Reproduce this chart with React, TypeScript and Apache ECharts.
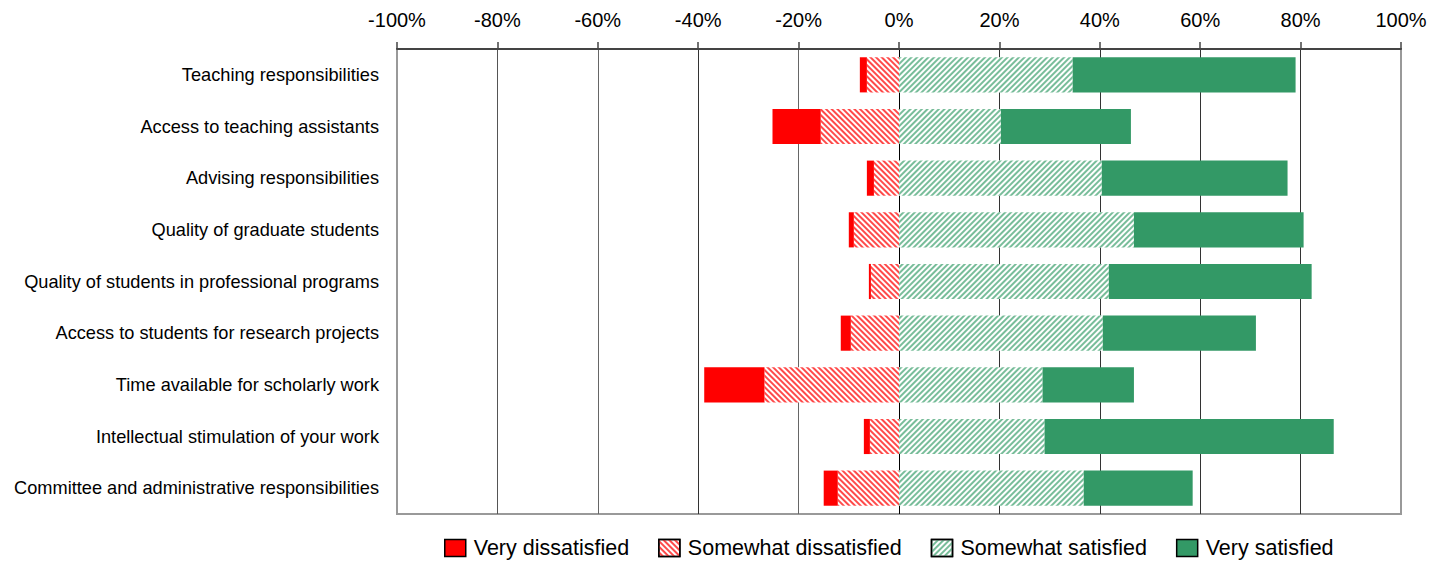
import React, { useEffect, useRef } from "react";
import * as echarts from "echarts";

const categories = [
  "Teaching responsibilities",
  "Access to teaching assistants",
  "Advising responsibilities",
  "Quality of graduate students",
  "Quality of students in professional programs",
  "Access to students for research projects",
  "Time available for scholarly work",
  "Intellectual stimulation of your work",
  "Committee and administrative responsibilities",
];
const veryDissatisfied = [1.4, 9.6, 1.4, 1.0, 0.4, 2.0, 12.0, 1.2, 2.8];
const somewhatDissatisfied = [6.4, 15.6, 5.0, 9.0, 5.6, 9.6, 26.8, 5.8, 12.2];
const somewhatSatisfied = [34.6, 20.3, 40.4, 46.8, 41.8, 40.6, 28.6, 29.0, 36.8];
const verySatisfied = [44.4, 25.9, 37.0, 33.8, 40.4, 30.5, 18.2, 57.6, 21.7];
const legendNames = ["Very dissatisfied", "Somewhat dissatisfied", "Somewhat satisfied", "Very satisfied"];

const FONT = 'Arial, "Liberation Sans", sans-serif';

export default function App() {
  const ref = useRef<HTMLDivElement>(null);
  useEffect(() => {
    document.body.style.margin = "0";
    const chart = echarts.init(ref.current!, null, { renderer: "svg" });
    const hatch = (color: string, rotation: number) => ({
      symbol: "rect",
      symbolSize: 1,
      dashArrayX: [1, 0],
      dashArrayY: [1.3, 2],
      rotation,
      color,
      backgroundColor: "#ffffff",
    });
    chart.setOption({
      animation: false,
      textStyle: { fontFamily: FONT },
      grid: {
        left: 397,
        right: 31,
        top: 49,
        bottom: 47,
        show: true,
        borderColor: "#999",
        borderWidth: 2,
        backgroundColor: "transparent",
      },
      legend: {
        data: legendNames,
        icon: "rect",
        left: 439,
        top: 532,
        itemWidth: 21,
        itemHeight: 17,
        itemGap: 29,
        textStyle: { fontSize: 21.5, color: "#000", fontFamily: FONT, padding: [0, 0, 0, 3] },
        itemStyle: { borderColor: "#000", borderWidth: 1.5 },
      },
      xAxis: {
        type: "value",
        position: "top",
        min: -100,
        max: 100,
        interval: 20,
        axisLine: { show: true, lineStyle: { color: "#444", width: 2 } },
        axisTick: { show: true, length: 7, lineStyle: { color: "#444", width: 1.5 } },
        axisLabel: {
          formatter: (v: number) => `${v}%`,
          fontSize: 20,
          color: "#000",
          margin: 19,
          fontFamily: FONT,
        },
        splitLine: {
          show: true,
          lineStyle: {
            color: ["#999", "#555", "#666", "#333", "#666", "#000", "#333", "#333", "#333", "#333", "#999"],
            width: 1,
          },
        },
      },
      yAxis: {
        type: "category",
        data: categories,
        inverse: true,
        axisLine: { show: false },
        axisTick: { show: false },
        axisLabel: { fontSize: 18.2, color: "#000", margin: 18, fontFamily: FONT },
      },
      series: [
        {
          name: "Somewhat dissatisfied",
          type: "bar",
          stack: "total",
          barWidth: "68%",
          data: somewhatDissatisfied.map((v) => -v),
          itemStyle: { color: "#ffffff", decal: hatch("#ff4a4a", Math.PI / 4) },
        },
        {
          name: "Very dissatisfied",
          type: "bar",
          stack: "total",
          barWidth: "68%",
          data: veryDissatisfied.map((v) => -v),
          itemStyle: { color: "#ff0000" },
        },
        {
          name: "Somewhat satisfied",
          type: "bar",
          stack: "total",
          barWidth: "68%",
          data: somewhatSatisfied,
          itemStyle: { color: "#ffffff", decal: hatch("#78bd9a", -Math.PI / 4) },
        },
        {
          name: "Very satisfied",
          type: "bar",
          stack: "total",
          barWidth: "68%",
          data: verySatisfied,
          itemStyle: { color: "#339966" },
        },
      ],
    });
    return () => chart.dispose();
  }, []);
  return <div ref={ref} style={{ width: 1432, height: 561 }} />;
}
